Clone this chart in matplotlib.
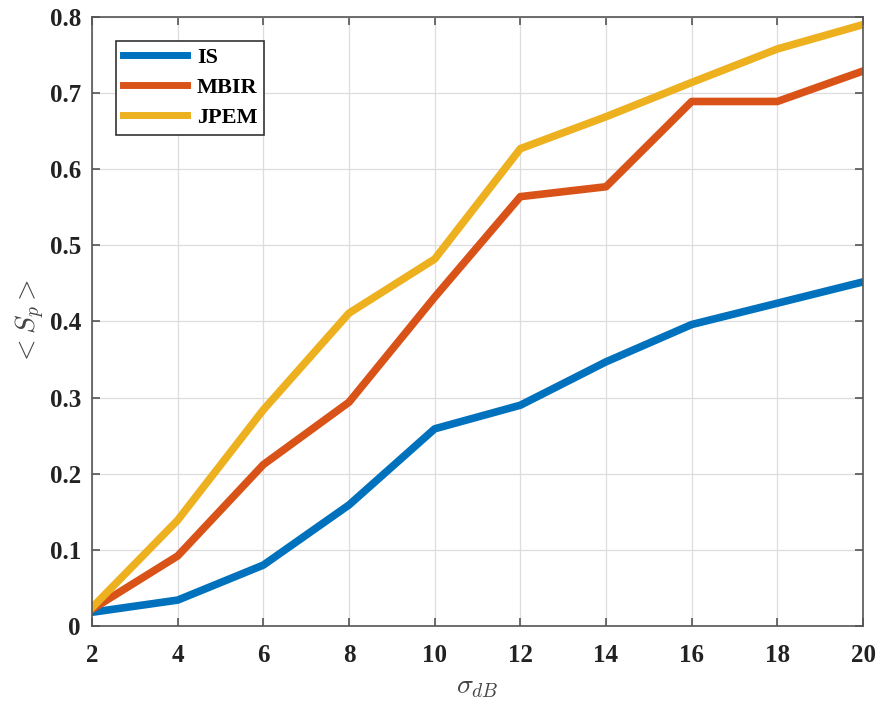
import matplotlib
matplotlib.use("Agg")
import matplotlib.pyplot as plt

x = [2, 4, 6, 8, 10, 12, 14, 16, 18, 20]
IS = [0.018, 0.034, 0.080, 0.159, 0.259, 0.290, 0.347, 0.396, 0.424, 0.452]
MBIR = [0.022, 0.092, 0.212, 0.294, 0.432, 0.564, 0.577, 0.689, 0.689, 0.729]
JPEM = [0.024, 0.139, 0.284, 0.411, 0.482, 0.627, 0.669, 0.714, 0.758, 0.790]
xticks = [2, 4, 6, 8, 10, 12, 14, 16, 18, 20]
yticks = [0, 0.1, 0.2, 0.3, 0.4, 0.5, 0.6, 0.7, 0.8]
yticklabels = ["0", "0.1", "0.2", "0.3", "0.4", "0.5", "0.6", "0.7", "0.8"]

plt.rcParams['font.family'] = ['Liberation Serif', 'DejaVu Serif']
plt.rcParams['mathtext.fontset'] = 'cm'

fig = plt.figure(figsize=(8.79, 7.02), dpi=100)
ax = fig.add_axes([0.1047, 0.1083, 0.8771, 0.8675])

ax.plot(x, IS, color='#0072BD', lw=5.5, label='IS')
ax.plot(x, MBIR, color='#D95319', lw=5.5, label='MBIR')
ax.plot(x, JPEM, color='#EDB120', lw=5.5, label='JPEM')

ax.set_xlim(2, 20)
ax.set_ylim(0, 0.8)
ax.set_xticks(xticks)
ax.set_yticks(yticks)
ax.set_yticklabels(yticklabels)
ax.grid(True, color='#dddddd', lw=0.9)
ax.set_axisbelow(True)
for s in ax.spines.values():
    s.set_color('#555555')
    s.set_linewidth(1.2)
ax.tick_params(direction='in', length=6, width=1.2, color='#555555', top=True, right=True,
               labelsize=18)
ax.tick_params(axis='x', pad=13)
ax.tick_params(axis='y', pad=8)
for lab in ax.get_xticklabels() + ax.get_yticklabels():
    lab.set_fontweight('bold')
    lab.set_color('#222222')

ax.set_xlabel(r'$\sigma_{dB}$', fontsize=20, color='#444444', labelpad=6)
ax.set_ylabel(r'$<S_p>$', fontsize=20, color='#444444', labelpad=2)

leg = ax.legend(loc='upper left', bbox_to_anchor=(0.031, 0.9606), borderaxespad=0,
                prop={'weight': 'bold', 'size': 16}, fancybox=False, framealpha=1,
                edgecolor='#333333', handlelength=2.9, handletextpad=0.45,
                borderpad=0.3, labelspacing=0.42)
leg.get_frame().set_linewidth(1.2)
for line in leg.get_lines():
    line.set_linewidth(5)

fig.savefig('out.png', dpi=100)
